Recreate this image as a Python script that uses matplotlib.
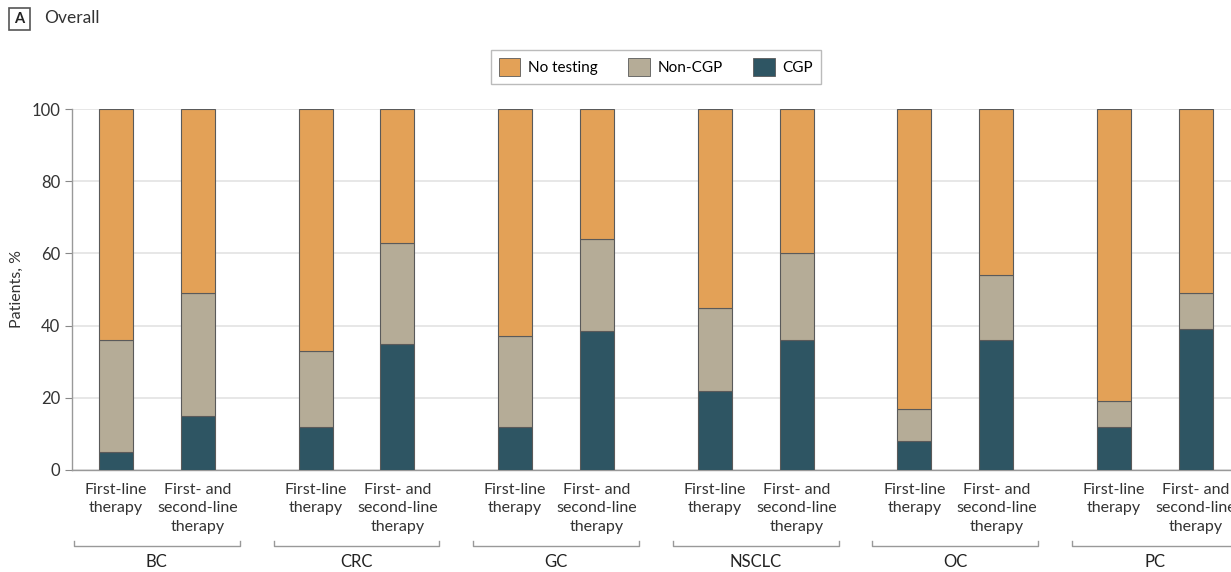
import matplotlib
matplotlib.use("Agg")
import matplotlib.pyplot as plt
from matplotlib.patches import Patch, Rectangle
from matplotlib.transforms import blended_transform_factory
import numpy as np

plt.rcParams['font.family'] = ['Lato', 'DejaVu Sans']

cancers = ["BC", "CRC", "GC", "NSCLC", "OC", "PC"]
line_labels = ["First-line\ntherapy", "First- and\nsecond-line\ntherapy"]

# Percent of patients, per cancer: [first-line, first- and second-line]
cgp = [[5, 15], [12, 35], [12, 38.5], [22, 36], [8, 36], [12, 39]]
non_cgp = [[31, 34], [21, 28], [25, 25.5], [23, 24], [9, 18], [7, 10]]
no_testing = [[64, 51], [67, 37], [63, 36], [55, 40], [83, 46], [81, 51]]

c_no = "#E3A157"
c_non = "#B5AC97"
c_cgp = "#2E5563"
edge = "#5a5a5a"

fig = plt.figure(figsize=(12.31, 5.72), dpi=100)
ax = fig.add_axes([72 / 1231, (572 - 470) / 572, 1 - 72 / 1231, 361 / 572])

offset = 0.41
width = 0.17
xs, labels = [], []
for i in range(len(cancers)):
    for j in range(2):
        x = i + j * offset
        xs.append(x)
        labels.append(line_labels[j])
        b1 = cgp[i][j]
        b2 = non_cgp[i][j]
        b3 = no_testing[i][j]
        ax.bar(x, b1, width, color=c_cgp, edgecolor=edge, linewidth=0.8, zorder=3)
        ax.bar(x, b2, width, bottom=b1, color=c_non, edgecolor=edge, linewidth=0.8, zorder=3)
        ax.bar(x, b3, width, bottom=b1 + b2, color=c_no, edgecolor=edge, linewidth=0.8, zorder=3)

ax.set_xlim(-0.22, 5.586)
ax.set_ylim(0, 100)
ax.set_yticks([0, 20, 40, 60, 80, 100])
ax.tick_params(axis='y', labelsize=12, colors="#333333", length=5, width=0.8, color="#888888")
ax.set_xticks(xs)
ax.set_xticklabels(labels, fontsize=11.5, color="#333333", linespacing=1.45)
ax.tick_params(axis='x', length=0, pad=9)
ax.grid(axis='y', color="#e3e3e3", linewidth=1.2, zorder=0)
for s in ["top", "right"]:
    ax.spines[s].set_visible(False)
for s in ["left", "bottom"]:
    ax.spines[s].set_color("#999999")
    ax.spines[s].set_linewidth(1.0)
ax.set_ylabel("Patients, %", fontsize=11.5, color="#333333", labelpad=5)

# Group brackets and cancer labels
tr = blended_transform_factory(ax.transData, fig.transFigure)
yb = (572 - 546) / 572
yt = (572 - 541) / 572
for i, name in enumerate(cancers):
    x0 = i - 0.21
    x1 = i + offset + 0.21
    ax.plot([x0, x0, x1, x1], [yt, yb, yb, yt], transform=tr, color="#999999",
            linewidth=1.0, clip_on=False)
    ax.text(i + offset / 2, (572 - 562) / 572, name, transform=tr, ha='center',
            va='center', fontsize=12, color="#222222")

# Legend
handles = [Patch(facecolor=c_no, edgecolor=edge, linewidth=0.6, label="No testing"),
           Patch(facecolor=c_non, edgecolor=edge, linewidth=0.6, label="Non-CGP"),
           Patch(facecolor=c_cgp, edgecolor=edge, linewidth=0.6, label="CGP")]
leg = fig.legend(handles=handles, loc='center', bbox_to_anchor=(656 / 1231, (572 - 67) / 572),
                 ncol=3, frameon=True, fancybox=False, fontsize=11, handlelength=1.4,
                 handleheight=1.4, columnspacing=2.0, handletextpad=0.5, borderpad=0.55)
leg.get_frame().set_edgecolor("#aaaaaa")
leg.get_frame().set_linewidth(1.0)

# Panel tag
fig.patches.append(Rectangle((9 / 1231, (572 - 30) / 572), 21 / 1231, 22 / 572,
                             transform=fig.transFigure, facecolor='white',
                             edgecolor="#555555", linewidth=1.2))
fig.text(19.5 / 1231, (572 - 19) / 572, "A", ha='center', va='center', fontsize=10.5,
         fontweight='bold', color="#222222")
fig.text(44 / 1231, (572 - 18) / 572, "Overall", ha='left', va='center', fontsize=12.5,
         color="#333333")

fig.savefig("out.png", dpi=100)
